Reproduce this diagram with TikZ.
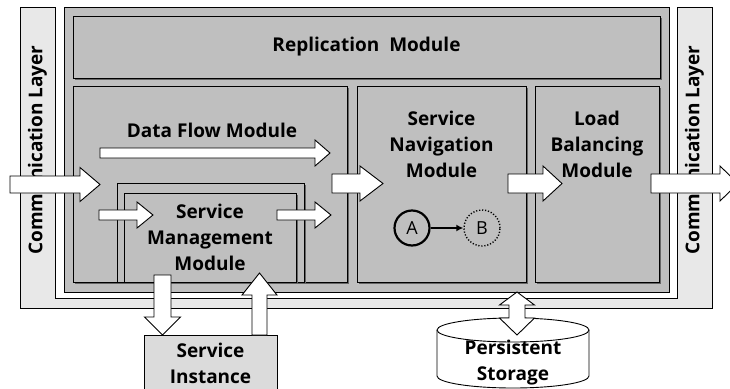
\documentclass[tikz,border=0pt]{standalone}
\usepackage{fontspec}
\setmainfont{Open Sans}
\usetikzlibrary{shadows,arrows.meta}
\definecolor{layergray}{gray}{0.91}
\definecolor{modgray}{gray}{0.75}
\definecolor{instgray}{gray}{0.86}

\tikzset{
  module/.style={draw, fill=modgray, line width=0.9pt,
    drop shadow={shadow xshift=2pt, shadow yshift=-2pt, opacity=1, fill=black!60}},
  caption/.style={font=\bfseries\fontsize{19}{26}\selectfont, align=center},
  flowarrow/.style={draw, fill=white, line width=0.9pt, line join=miter},
  pics/flow/.style n args={4}{code={
    \path[flowarrow] (0,-#2) -- ({#1-#4},-#2) -- ({#1-#4},-#3) -- (#1,0)
      -- ({#1-#4},#3) -- ({#1-#4},#2) -- (0,#2) -- cycle;
  }},
}

\begin{document}
\begin{tikzpicture}[x=1pt,y=-1pt]
\useasboundingbox (0,0) rectangle (730,388);

% communication layer round the platform
\path[draw, fill=layergray, line width=0.9pt] (20,7) -- (55,7) -- (55,298) -- (677,298)
  -- (677,7) -- (712,7) -- (712,308) -- (20,308) -- cycle;
\node[caption, rotate=90] (commL) at (37.5,150) {Communication Layer};
\node[caption, rotate=90] (commR) at (694.5,150) {Communication Layer};

% platform and its modules
\node[draw, fill=modgray, line width=0.9pt, minimum width=605, minimum height=285] (main) at (366.5,149.5) {};
\node[module, caption, minimum width=587, minimum height=62] (repl) at (366.5,47) {Replication\ \ Module};
\node[module, minimum width=274, minimum height=196] (dataflow) at (210,184) {};
\node[module, minimum width=187, minimum height=99] (smmframe) at (210.5,232.5) {};
\node[module, caption, minimum width=172, minimum height=89] (smm) at (210,237.5) {Service\\Management\\Module};
\node[module, minimum width=169, minimum height=196] (nav) at (441.5,184) {};
\node[module, minimum width=124, minimum height=196] (lb) at (597,184) {};
\node[caption] (dftext) at (212,130) {Data Flow Module};
\node[caption] (navtext) at (441.5,144) {Service\\Navigation\\Module};
\node[caption] (lbtext) at (597,144) {Load\\Balancing\\Module};

% A -> B
\node[circle, draw, line width=2.2pt, minimum size=35, inner sep=0pt,
  font=\fontsize{18}{20}\selectfont] (A) at (412,228) {A};
\node[circle, draw, line width=1.4pt, dash pattern=on 1.2pt off 1.8pt, minimum size=36, inner sep=0pt,
  font=\fontsize{18}{20}\selectfont] (B) at (482,228) {B};
\draw[line width=2pt, -{Latex[length=7pt,width=7pt]}] (A) -- (B);

% outside
\node[draw, fill=instgray, line width=0.9pt, caption, minimum width=133, minimum height=55,
  anchor=north] (instance) at (210.5,335) {Service\\Instance};
\path[draw, fill=white, line width=0.9pt] (437,330) -- (437,376)
  arc[start angle=180, end angle=360, x radius=76pt, y radius=12pt] -- (589,330)
  arc[start angle=0, end angle=180, x radius=76pt, y radius=12pt] -- cycle;
\draw[line width=0.9pt] (437,330) arc[start angle=180, end angle=360, x radius=76pt, y radius=12pt];
\node[caption] (storage) at (513,363) {Persistent\\Storage};

% flows
\pic at (10,184.5) {flow={90}{8.5}{17}{20}};
\pic at (100,153) {flow={230}{5}{13}{15}};
\pic at (99,215) {flow={54}{5}{13}{16}};
\pic at (277,215) {flow={54}{5}{13}{16}};
\pic at (332,183.5) {flow={51}{9.5}{17.5}{23}};
\pic at (508,183.5) {flow={54}{9.5}{17.5}{19}};
\pic at (651,183.5) {flow={87}{9.5}{17.5}{18}};
\pic[rotate=-90] at (162.5,275) {flow={60}{8.5}{18}{18}};
\pic[rotate=90] at (259.5,335) {flow={62}{7.5}{17.5}{22}};
\path[flowarrow] (517,292) -- (534.5,305) -- (525,305) -- (525,318) -- (534.5,318)
  -- (517,335) -- (499.5,318) -- (509,318) -- (509,305) -- (499.5,305) -- cycle;
\end{tikzpicture}
\end{document}
